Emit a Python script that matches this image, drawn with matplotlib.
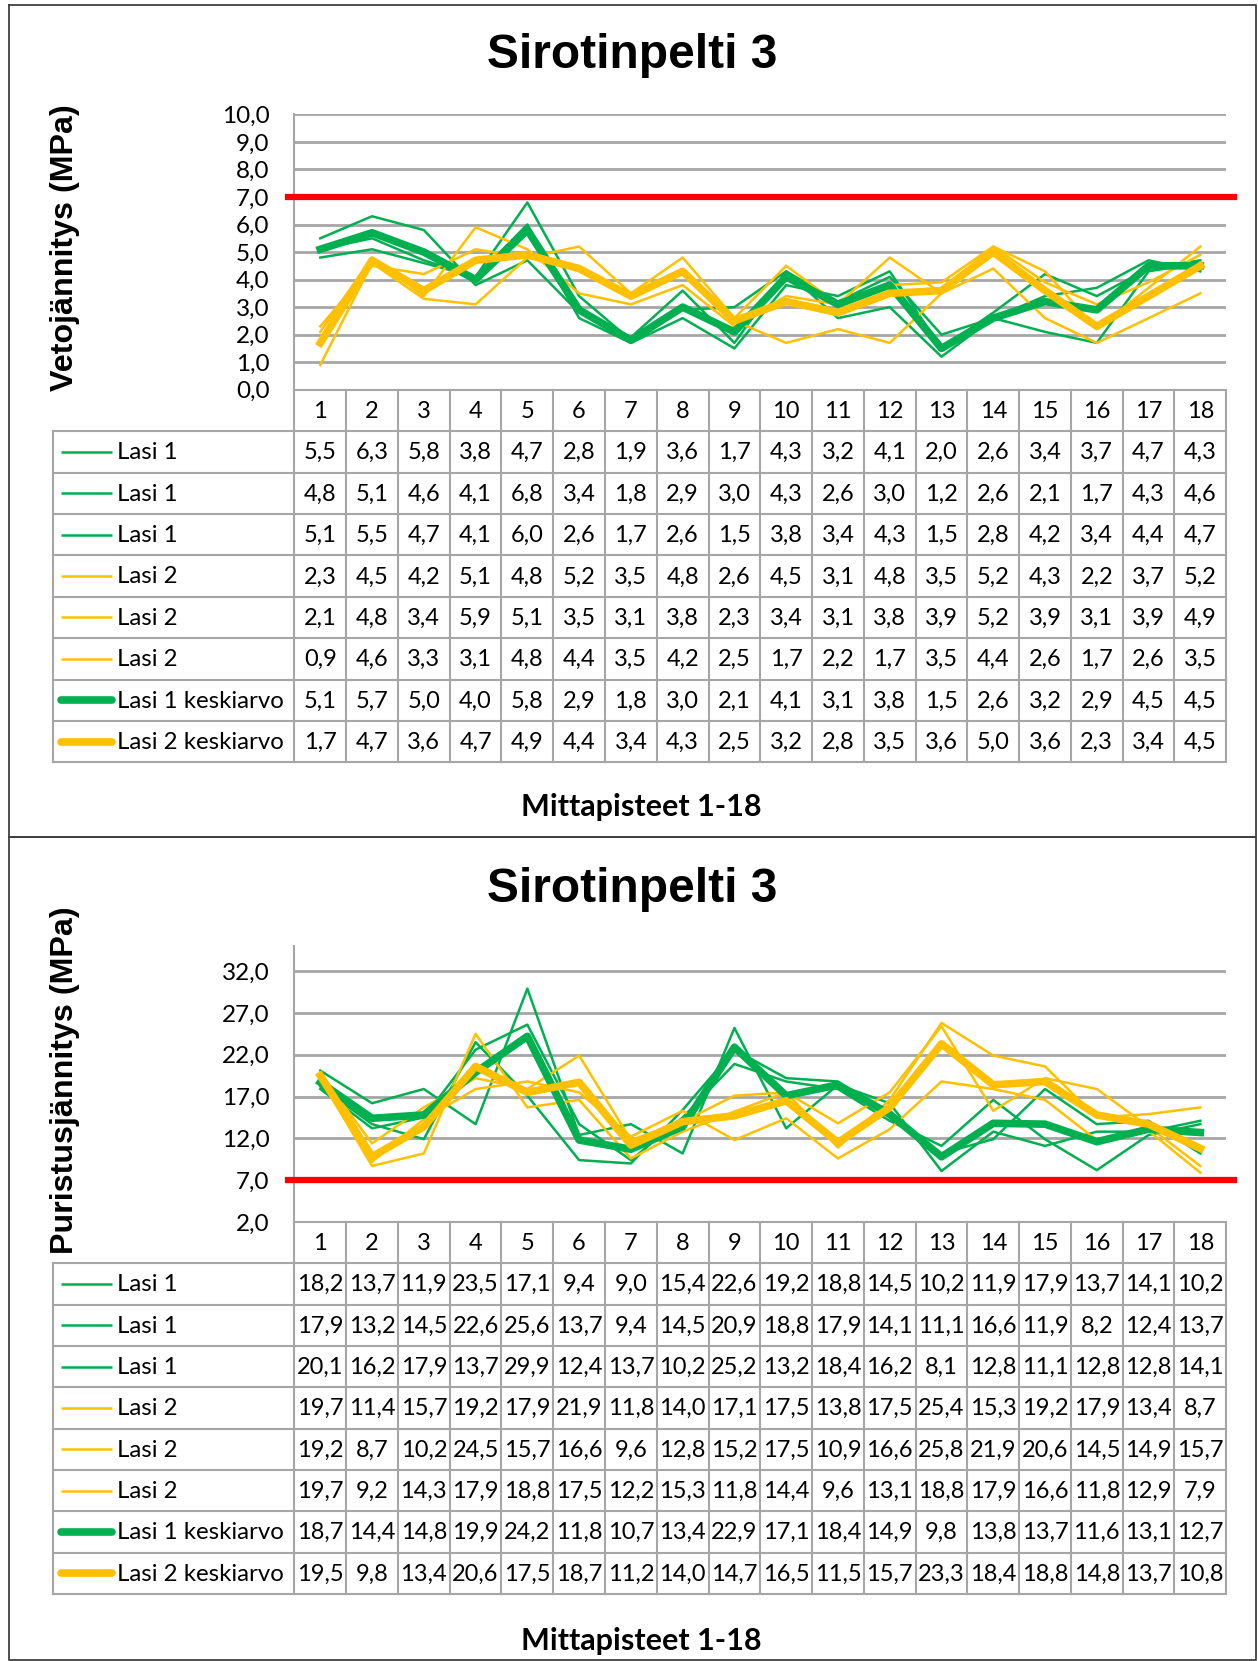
# ================================
# Sirotinpelti 3 - stress measurements
# ================================

import matplotlib
matplotlib.use("Agg")
import matplotlib.pyplot as plt

# ----------------
# Data
# ----------------
points = list(range(1, 19))

# tensile stress (MPa)
veto_lasi1 = [
    [5.5, 6.3, 5.8, 3.8, 4.7, 2.8, 1.9, 3.6, 1.7, 4.3, 3.2, 4.1, 2.0, 2.6, 3.4, 3.7, 4.7, 4.3],
    [4.8, 5.1, 4.6, 4.1, 6.8, 3.4, 1.8, 2.9, 3.0, 4.3, 2.6, 3.0, 1.2, 2.6, 2.1, 1.7, 4.3, 4.6],
    [5.1, 5.5, 4.7, 4.1, 6.0, 2.6, 1.7, 2.6, 1.5, 3.8, 3.4, 4.3, 1.5, 2.8, 4.2, 3.4, 4.4, 4.7],
]
veto_lasi2 = [
    [2.3, 4.5, 4.2, 5.1, 4.8, 5.2, 3.5, 4.8, 2.6, 4.5, 3.1, 4.8, 3.5, 5.2, 4.3, 2.2, 3.7, 5.2],
    [2.1, 4.8, 3.4, 5.9, 5.1, 3.5, 3.1, 3.8, 2.3, 3.4, 3.1, 3.8, 3.9, 5.2, 3.9, 3.1, 3.9, 4.9],
    [0.9, 4.6, 3.3, 3.1, 4.8, 4.4, 3.5, 4.2, 2.5, 1.7, 2.2, 1.7, 3.5, 4.4, 2.6, 1.7, 2.6, 3.5],
]
veto_avg1 = [5.1, 5.7, 5.0, 4.0, 5.8, 2.9, 1.8, 3.0, 2.1, 4.1, 3.1, 3.8, 1.5, 2.6, 3.2, 2.9, 4.5, 4.5]
veto_avg2 = [1.7, 4.7, 3.6, 4.7, 4.9, 4.4, 3.4, 4.3, 2.5, 3.2, 2.8, 3.5, 3.6, 5.0, 3.6, 2.3, 3.4, 4.5]

# compressive stress (MPa)
pur_lasi1 = [
    [18.2, 13.7, 11.9, 23.5, 17.1, 9.4, 9.0, 15.4, 22.6, 19.2, 18.8, 14.5, 10.2, 11.9, 17.9, 13.7, 14.1, 10.2],
    [17.9, 13.2, 14.5, 22.6, 25.6, 13.7, 9.4, 14.5, 20.9, 18.8, 17.9, 14.1, 11.1, 16.6, 11.9, 8.2, 12.4, 13.7],
    [20.1, 16.2, 17.9, 13.7, 29.9, 12.4, 13.7, 10.2, 25.2, 13.2, 18.4, 16.2, 8.1, 12.8, 11.1, 12.8, 12.8, 14.1],
]
pur_lasi2 = [
    [19.7, 11.4, 15.7, 19.2, 17.9, 21.9, 11.8, 14.0, 17.1, 17.5, 13.8, 17.5, 25.4, 15.3, 19.2, 17.9, 13.4, 8.7],
    [19.2, 8.7, 10.2, 24.5, 15.7, 16.6, 9.6, 12.8, 15.2, 17.5, 10.9, 16.6, 25.8, 21.9, 20.6, 14.5, 14.9, 15.7],
    [19.7, 9.2, 14.3, 17.9, 18.8, 17.5, 12.2, 15.3, 11.8, 14.4, 9.6, 13.1, 18.8, 17.9, 16.6, 11.8, 12.9, 7.9],
]
pur_avg1 = [18.7, 14.4, 14.8, 19.9, 24.2, 11.8, 10.7, 13.4, 22.9, 17.1, 18.4, 14.9, 9.8, 13.8, 13.7, 11.6, 13.1, 12.7]
pur_avg2 = [19.5, 9.8, 13.4, 20.6, 17.5, 18.7, 11.2, 14.0, 14.7, 16.5, 11.5, 15.7, 23.3, 18.4, 18.8, 14.8, 13.7, 10.8]

limit = 7.0
series_names = ["Lasi 1", "Lasi 1", "Lasi 1", "Lasi 2", "Lasi 2", "Lasi 2",
                "Lasi 1 keskiarvo", "Lasi 2 keskiarvo"]

GREEN = "#00b050"
YELLOW = "#ffc000"
GRID = "#a6a6a6"
TABLE_FONT = "Lato"

# ----------------
# Figure in pixel layout
# ----------------
W, H = 1258, 1661
fig = plt.figure(figsize=(W / 100, H / 100), dpi=100)


def frac(x0, y0, x1, y1):
    return [x0 / W, 1 - y1 / H, (x1 - x0) / W, (y1 - y0) / H]


overlay = fig.add_axes([0, 0, 1, 1], zorder=-1)
overlay.set_xlim(0, W)
overlay.set_ylim(H, 0)
overlay.axis("off")

PLOT_L, PLOT_R = 294.4, 1226.2
TAB_L = 53
COLW = (PLOT_R - PLOT_L) / 18


def to_cat(px):
    return 0.5 + (px - PLOT_L) / COLW


def fmt(v):
    return f"{v:.1f}".replace(".", ",")


def draw_panel(frame, title_y, plot_top, plot_bot, tab_bot, xlabel_y,
               ylabel, ylim, yticks, lasi1, lasi2, avg1, avg2):
    # panel frame
    x0, y0, x1, y1 = frame
    overlay.plot([x0, x1, x1, x0, x0], [y0, y0, y1, y1, y0], color="#404040", lw=1.3)
    overlay.text(632, title_y, "Sirotinpelti 3", ha="center", va="center",
                 fontsize=34.5, fontweight="bold", family="Liberation Sans")
    overlay.text(641, xlabel_y, "Mittapisteet 1-18", ha="center", va="center",
                 fontsize=22, fontweight="bold", family=TABLE_FONT)
    overlay.text(65, (plot_top + plot_bot) / 2 - 4, ylabel, ha="center", va="center",
                 rotation=90, fontsize=23.2, fontweight="bold", family="Liberation Sans")

    # chart
    ax = fig.add_axes(frac(PLOT_L, plot_top, PLOT_R, plot_bot))
    ax.set_xlim(0.5, 18.5)
    ax.set_ylim(*ylim)
    ax.set_yticks(yticks)
    ax.set_yticklabels([fmt(t) for t in yticks], family=TABLE_FONT, fontsize=17.5)
    ax.tick_params(axis="y", length=0, pad=18)
    ax.set_xticks([])
    for side in ["top", "right"]:
        ax.spines[side].set_visible(False)
    for side in ["left", "bottom"]:
        ax.spines[side].set_color(GRID)
        ax.spines[side].set_linewidth(1.5)
    ax.yaxis.grid(True, color=GRID, lw=2)
    ax.set_axisbelow(True)

    for s in lasi1:
        ax.plot(points, s, color=GREEN, lw=1.8)
    for s in lasi2:
        ax.plot(points, s, color=YELLOW, lw=1.8)
    ax.plot(points, avg1, color=GREEN, lw=5.5, solid_joinstyle="round")
    ax.plot(points, avg2, color=YELLOW, lw=5.5, solid_joinstyle="round")
    ax.plot([0.38, 18.66], [limit, limit], color="#ff0000", lw=4.5, clip_on=False, zorder=5)

    # data table under the chart
    tab = fig.add_axes(frac(TAB_L, plot_bot, PLOT_R, tab_bot))
    tab.set_xlim(to_cat(TAB_L), 18.5)
    tab.set_ylim(9, 0)
    tab.axis("off")
    left = to_cat(TAB_L)
    for r in range(1, 10):
        tab.plot([left, 18.5], [r, r], color=GRID, lw=1.5, clip_on=False)
    tab.plot([left, left], [1, 9], color=GRID, lw=1.5, clip_on=False)
    for c in range(19):
        tab.plot([c + 0.5, c + 0.5], [0, 9], color=GRID, lw=1.5, clip_on=False)

    for p in points:
        tab.text(p, 0.52, str(p), ha="center", va="center", family=TABLE_FONT, fontsize=17)

    rows = lasi1 + lasi2 + [avg1, avg2]
    colors = [GREEN] * 3 + [YELLOW] * 3 + [GREEN, YELLOW]
    widths = [1.8] * 6 + [5.5, 5.5]
    for i, (name, vals) in enumerate(zip(series_names, rows)):
        y = i + 1.52
        tab.plot([to_cat(61), to_cat(112)], [y - 0.02, y - 0.02], color=colors[i],
                 lw=widths[i], solid_capstyle="round" if widths[i] > 3 else "butt")
        tab.text(to_cat(117), y, name, ha="left", va="center", family=TABLE_FONT, fontsize=17.3)
        for p, v in zip(points, vals):
            tab.text(p, y, fmt(v), ha="center", va="center", family=TABLE_FONT, fontsize=17)


# ----------------
# Panels
# ----------------
draw_panel((9, 5, 1256, 837), 56, 114.4, 389.7, 762.4, 807,
           "Vetojännitys (MPa)", (0, 10), [0, 1, 2, 3, 4, 5, 6, 7, 8, 9, 10],
           veto_lasi1, veto_lasi2, veto_avg1, veto_avg2)

draw_panel((9, 837, 1256, 1660), 889, 946, 1222, 1594, 1641,
           "Puristusjännitys (MPa)", (2, 35), [2, 7, 12, 17, 22, 27, 32],
           pur_lasi1, pur_lasi2, pur_avg1, pur_avg2)

fig.savefig("out.png", dpi=100)
